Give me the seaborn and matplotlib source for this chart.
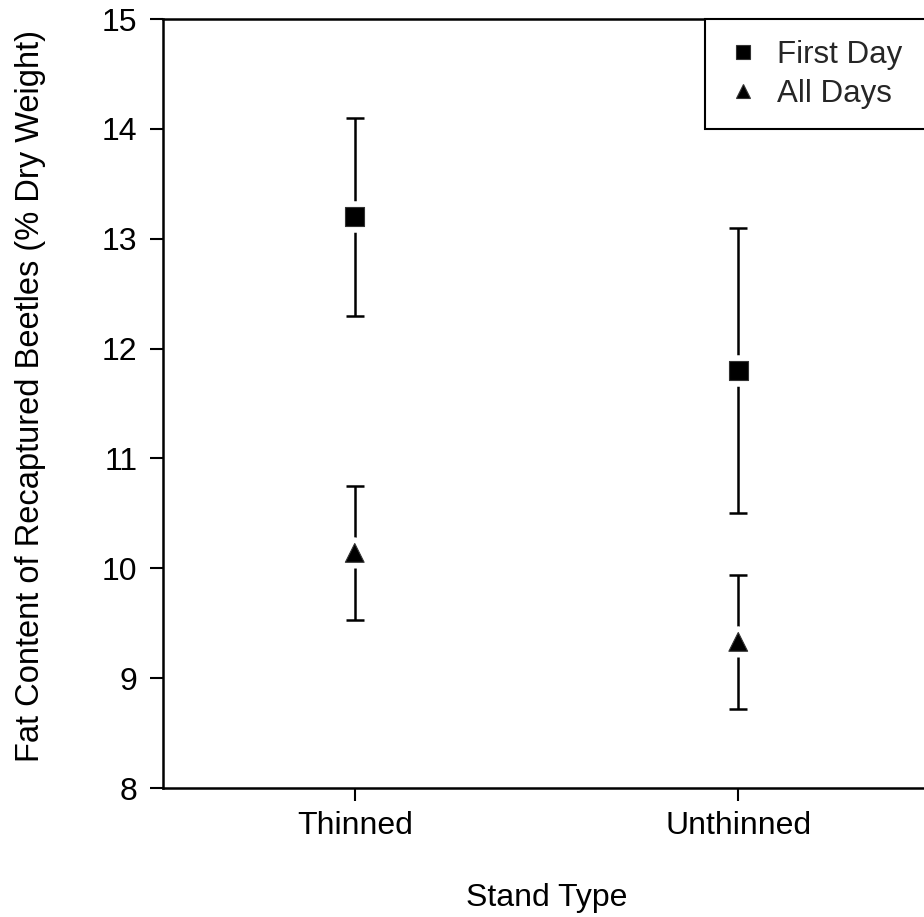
import pandas as pd
import seaborn as sns
import matplotlib.pyplot as plt

# stand types and fat content (means with error half-widths)
stands = ['Thinned', 'Unthinned']
first_day_mean = [13.2, 11.8]
first_day_err = [0.9, 1.3]
all_days_mean = [10.14, 9.33]
all_days_err = [0.61, 0.61]
periods = ['First Day', 'All Days']

df = pd.DataFrame({
    'stand': stands * 2,
    'fat': first_day_mean + all_days_mean,
    'err': first_day_err + all_days_err,
    'period': [periods[0]] * 2 + [periods[1]] * 2,
})

sns.set_style('white')
plt.rcParams['font.family'] = ['Liberation Sans', 'DejaVu Sans']

fig = plt.figure(figsize=(9.24, 9.17), dpi=100)
ax = fig.add_axes([163 / 924, 129 / 917, 767 / 924, 769 / 917])

markers = {'First Day': 's', 'All Days': '^'}

# white halo first, then the marks, so the bar line is cut around them
sns.scatterplot(data=df, x='stand', y='fat', style='period', markers=markers,
                color='white', edgecolor='white', linewidth=9, s=182,
                legend=False, zorder=3, ax=ax)
ax.errorbar([0, 1, 0, 1], df['fat'], yerr=df['err'], fmt='none', ecolor='black',
            elinewidth=1.8, capsize=6.7, capthick=1.8, zorder=2)
sns.scatterplot(data=df, x='stand', y='fat', style='period', markers=markers,
                color='black', edgecolor='#333333', linewidth=0.8, s=182,
                zorder=4, ax=ax)

ax.set_xlim(-0.5, 1.5)
ax.set_ylim(8, 15)
ax.set_yticks(range(8, 16))
ax.set_xticks([0, 1])
ax.set_xticklabels(stands)

for side in ['left', 'bottom', 'top', 'right']:
    ax.spines[side].set_color('black')
    ax.spines[side].set_linewidth(1.8)

ax.tick_params(axis='both', which='major', direction='out', length=9.4, width=1.5,
               color='black', labelsize=23, labelcolor='black')
ax.tick_params(axis='y', pad=9.0, left=True)
ax.tick_params(axis='x', pad=7, bottom=True)

ax.set_xlabel('Stand Type', fontsize=23, color='black')
ax.set_ylabel('Fat Content of Recaptured Beetles (% Dry Weight)', fontsize=23.5, color='black')
ax.xaxis.set_label_coords(0.5, -0.124)
ax.yaxis.set_label_coords(-0.153, 0.510)

handles, labels = ax.get_legend_handles_labels()
leg = ax.legend(handles, labels, loc='upper left', bbox_to_anchor=(0.7066, 0, 0.35, 1),
                mode='expand', fontsize=22.5, frameon=True, fancybox=False,
                edgecolor='black', framealpha=1, borderaxespad=0, borderpad=0.66,
                handlelength=1.11, handletextpad=0.53, labelspacing=0.29,
                markerscale=0.75)
leg.get_frame().set_linewidth(1.5)

plt.savefig('out.png', dpi=100)
plt.close()
